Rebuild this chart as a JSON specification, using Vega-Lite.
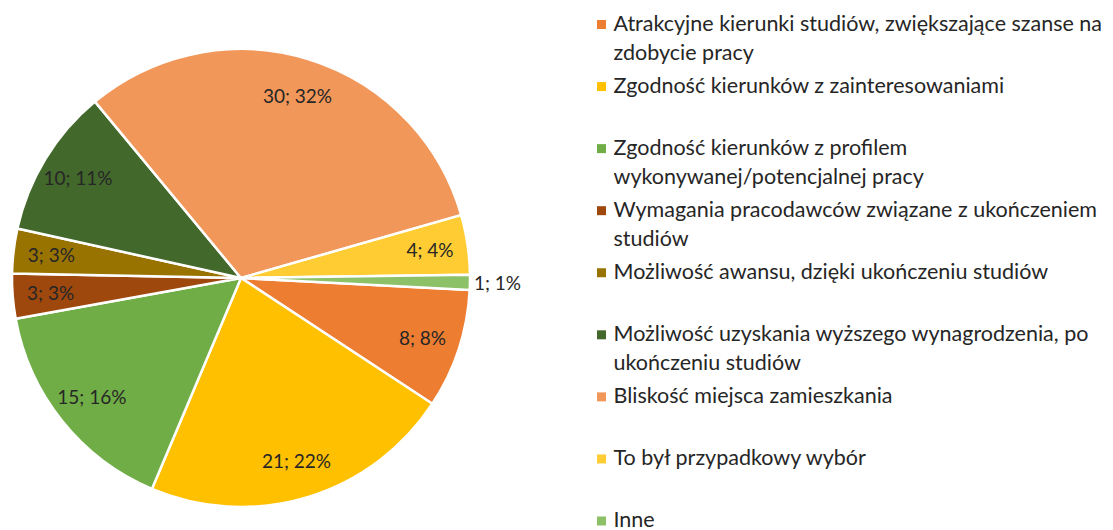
{
  "$schema": "https://vega.github.io/schema/vega-lite/v6.json",
  "padding": 0,
  "background": "white",
  "bounds": "flush",
  "spacing": 109.5,
  "config": {"view": {"stroke": null}, "font": "Lato"},
  "datasets": {
    "items": [
      {"idx": 1, "cat": "Atrakcyjne kierunki studiów, zwiększające szanse na zdobycie pracy", "text": "Atrakcyjne kierunki studiów, zwiększające szanse na\nzdobycie pracy", "value": 8, "label": "8; 8%"},
      {"idx": 2, "cat": "Zgodność kierunków z zainteresowaniami", "text": "Zgodność kierunków z zainteresowaniami", "value": 21, "label": "21; 22%"},
      {"idx": 3, "cat": "Zgodność kierunków z profilem wykonywanej/potencjalnej pracy", "text": "Zgodność kierunków z profilem\nwykonywanej/potencjalnej pracy", "value": 15, "label": "15; 16%"},
      {"idx": 4, "cat": "Wymagania pracodawców związane z ukończeniem studiów", "text": "Wymagania pracodawców związane z ukończeniem\nstudiów", "value": 3, "label": "3; 3%"},
      {"idx": 5, "cat": "Możliwość awansu, dzięki ukończeniu studiów", "text": "Możliwość awansu, dzięki ukończeniu studiów", "value": 3, "label": "3; 3%"},
      {"idx": 6, "cat": "Możliwość uzyskania wyższego wynagrodzenia, po ukończeniu studiów", "text": "Możliwość uzyskania wyższego wynagrodzenia, po\nukończeniu studiów", "value": 10, "label": "10; 11%"},
      {"idx": 7, "cat": "Bliskość miejsca zamieszkania", "text": "Bliskość miejsca zamieszkania", "value": 30, "label": "30; 32%"},
      {"idx": 8, "cat": "To był przypadkowy wybór", "text": "To był przypadkowy wybór", "value": 4, "label": "4; 4%"},
      {"idx": 9, "cat": "Inne", "text": "Inne", "value": 1, "label": "1; 1%"}
    ]
  },
  "hconcat": [
    {
      "width": 482,
      "height": 530,
      "data": {"name": "items"},
      "encoding": {
        "theta": {"field": "value", "type": "quantitative", "stack": true, "scale": {"range": [1.6232, 7.9064]}},
        "order": {"field": "idx", "type": "quantitative"},
        "color": {
          "field": "cat", "type": "nominal", "legend": null,
          "sort": {"field": "idx"},
          "scale": {
            "domain": [
              "Atrakcyjne kierunki studiów, zwiększające szanse na zdobycie pracy",
              "Zgodność kierunków z zainteresowaniami",
              "Zgodność kierunków z profilem wykonywanej/potencjalnej pracy",
              "Wymagania pracodawców związane z ukończeniem studiów",
              "Możliwość awansu, dzięki ukończeniu studiów",
              "Możliwość uzyskania wyższego wynagrodzenia, po ukończeniu studiów",
              "Bliskość miejsca zamieszkania",
              "To był przypadkowy wybór",
              "Inne"
            ],
            "range": ["#ED7D31", "#FFC000", "#70AD47", "#9E480E", "#997300", "#43682B", "#F1975A", "#FFCD33", "#8CC168"]
          }
        }
      },
      "layer": [
        {"mark": {"type": "arc", "outerRadius": 229, "stroke": "white", "strokeWidth": 2.5, "yOffset": 13}},
        {
          "mark": {"type": "text", "radius": 191, "fontSize": 19, "fill": "#262626", "align": "center", "baseline": "middle", "yOffset": 14},
          "encoding": {
            "text": {"condition": {"test": "datum.idx != 9", "field": "label"}, "value": ""},
            "color": {"value": "#262626"}
          }
        },
        {
          "mark": {"type": "text", "radius": 233, "fontSize": 19, "fill": "#262626", "align": "left", "baseline": "middle", "yOffset": 14},
          "encoding": {
            "text": {"condition": {"test": "datum.idx == 9", "field": "label"}, "value": ""},
            "color": {"value": "#262626"}
          }
        }
      ]
    },
    {
      "width": 20,
      "height": 530,
      "data": {"name": "items"},
      "encoding": {
        "y": {"field": "cat", "type": "nominal", "sort": {"field": "idx"}, "axis": null, "scale": {"type": "point", "range": [24.5, 521], "padding": 0}}
      },
      "layer": [
        {
          "mark": {"type": "point", "shape": "square", "size": 81, "filled": true, "opacity": 1, "strokeWidth": 0},
          "encoding": {
            "color": {
              "field": "cat", "type": "nominal", "legend": null,
              "scale": {
                "domain": [
                  "Atrakcyjne kierunki studiów, zwiększające szanse na zdobycie pracy",
                  "Zgodność kierunków z zainteresowaniami",
                  "Zgodność kierunków z profilem wykonywanej/potencjalnej pracy",
                  "Wymagania pracodawców związane z ukończeniem studiów",
                  "Możliwość awansu, dzięki ukończeniu studiów",
                  "Możliwość uzyskania wyższego wynagrodzenia, po ukończeniu studiów",
                  "Bliskość miejsca zamieszkania",
                  "To był przypadkowy wybór",
                  "Inne"
                ],
                "range": ["#ED7D31", "#FFC000", "#70AD47", "#9E480E", "#997300", "#43682B", "#F1975A", "#FFCD33", "#8CC168"]
              }
            }
          }
        },
        {
          "mark": {"type": "text", "align": "left", "baseline": "middle", "dx": 12, "fontSize": 21.5, "lineHeight": 29.5, "lineBreak": "\n", "color": "#262626"},
          "encoding": {"text": {"field": "text"}}
        }
      ]
    }
  ]
}
